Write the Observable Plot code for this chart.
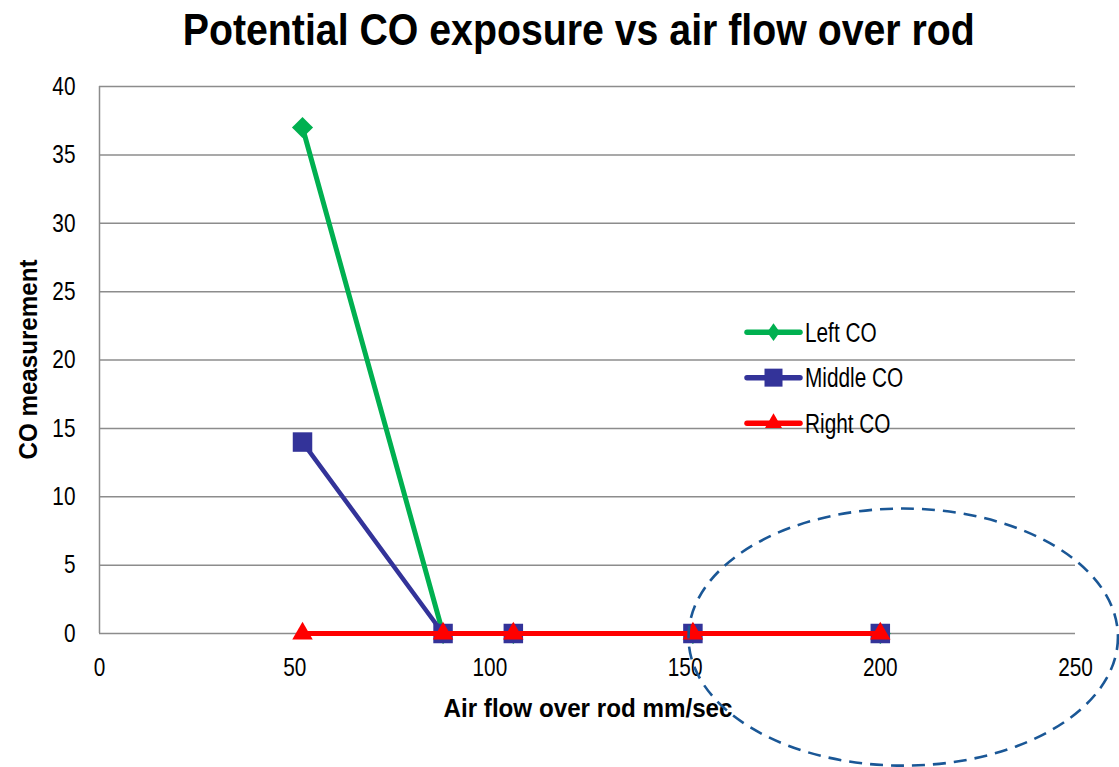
<!DOCTYPE html>
<html>
<head>
<meta charset="utf-8">
<script src="https://cdn.jsdelivr.net/npm/d3@7"></script>
<script src="https://cdn.jsdelivr.net/npm/@observablehq/plot@0.6"></script>
<style>
  body { margin: 0; background: #fff; }
  #wrap { position: relative; width: 1119px; height: 767px; font-family: "Liberation Sans", Arial, sans-serif; }
  #title { position: absolute; left: 0; top: 0; width: 1158px; height: 70px; text-align: center; }
  #title span { display: inline-block; font-weight: bold; font-size: 44px; line-height: 60px; color: #000; white-space: nowrap; transform-origin: 50% 50%; }
  #chart { position: absolute; left: 0; top: 70px; }
  svg { overflow: visible; }
</style>
</head>
<body>
<div id="wrap">
  <div id="title"><span>Potential CO exposure vs air flow over rod</span></div>
  <div id="chart"></div>
</div>
<script>
// ---- data ----
const airFlow = [52, 88, 106, 152, 200];
const leftCO = [37, 0, 0, 0, 0];
const middleCO = [14, 0, 0, 0, 0];
const rightCO = [0, 0, 0, 0, 0];
const seriesNames = ["Left CO", "Middle CO", "Right CO"];
const seriesColors = ["#00b050", "#333399", "#ff0000"];
const yTicks = [0, 5, 10, 15, 20, 25, 30, 35, 40];
const xTicks = [0, 50, 100, 150, 200, 250];
const xLabel = "Air flow over rod mm/sec";
const yLabel = "CO measurement";
const highlight = { cx: 206, cy: -0.3, rx: 55, ry: 9.4 }; // dashed ellipse annotation (data units)

const fontFam = '"Liberation Sans", Arial, sans-serif';
const rows = (ys, name) => airFlow.map((x, i) => ({ x, y: ys[i], series: name }));
const left = rows(leftCO, seriesNames[0]);
const middle = rows(middleCO, seriesNames[1]);
const right = rows(rightCO, seriesNames[2]);

const W = 1119, H = 697;
const chart = Plot.plot({
  width: W,
  height: H,
  marginLeft: 99,
  marginRight: 44,
  marginTop: 16,
  marginBottom: 134,
  style: { fontFamily: fontFam, background: "transparent", overflow: "visible" },
  x: { domain: [0, 250] },
  y: { domain: [0, 40] },
  marks: [
    Plot.ruleY(yTicks, { stroke: "#8c8c8c", strokeWidth: 1.5 }),
    Plot.ruleX([0], { stroke: "#8c8c8c", strokeWidth: 1.5 }),
    Plot.axisY({ ticks: yTicks, tickSize: 0, tickPadding: 24, fontSize: 26, fill: "#000", tickFormat: d => d, label: null }),
    Plot.axisX({ ticks: xTicks, tickSize: 0, tickPadding: 24, fontSize: 26, fill: "#000", tickFormat: d => d, label: null }),
    Plot.line(left, { x: "x", y: "y", stroke: seriesColors[0], strokeWidth: 5 }),
    Plot.dot(left, { x: "x", y: "y", symbol: "diamond2", r: 9.5, fill: seriesColors[0], stroke: "none" }),
    Plot.line(middle, { x: "x", y: "y", stroke: seriesColors[1], strokeWidth: 4.5 }),
    Plot.dot(middle, { x: "x", y: "y", symbol: "square", r: 11, fill: seriesColors[1], stroke: "none" }),
    Plot.line(right, { x: "x", y: "y", stroke: seriesColors[2], strokeWidth: 5 }),
    Plot.dot(right, { x: "x", y: "y", symbol: "triangle", r: 7.6, fill: seriesColors[2], stroke: "none" })
  ]
});
document.getElementById("chart").appendChild(chart);

// narrow-face emulation: compress glyphs horizontally
function squeeze(el, factor) {
  const len = el.getComputedTextLength();
  el.setAttribute("textLength", len * factor);
  el.setAttribute("lengthAdjust", "spacingAndGlyphs");
}
chart.querySelectorAll('g[aria-label="y-axis tick label"] text, g[aria-label="x-axis tick label"] text')
  .forEach(t => squeeze(t, 0.8));

// title width
const titleSpan = document.querySelector("#title span");
titleSpan.style.transform = `scaleX(${792 / titleSpan.getBoundingClientRect().width})`;

const sx = chart.scale("x"), sy = chart.scale("y");
const svg = d3.select(chart);
const x0 = sx.apply(0), x1 = sx.apply(250), y0 = sy.apply(0), y1 = sy.apply(40);

// axis titles
const xl = svg.append("text")
  .attr("x", (x0 + x1) / 2 + 1).attr("y", y0 + 84)
  .attr("text-anchor", "middle").attr("font-size", 26.5).attr("font-weight", "bold")
  .attr("font-family", fontFam).attr("fill", "#000").text(xLabel);
xl.node().setAttribute("textLength", 289); xl.node().setAttribute("lengthAdjust", "spacingAndGlyphs");
const yl = svg.append("text")
  .attr("transform", `translate(27,${(y0 + y1) / 2}) rotate(-90)`)
  .attr("dy", "0.36em")
  .attr("text-anchor", "middle").attr("font-size", 26.5).attr("font-weight", "bold")
  .attr("font-family", fontFam).attr("fill", "#000").text(yLabel);
yl.node().setAttribute("textLength", 200); yl.node().setAttribute("lengthAdjust", "spacingAndGlyphs");

// dashed ellipse annotation, positioned with the chart's scales
const cxp = sx.apply(highlight.cx), cyp = sy.apply(highlight.cy);
const rxp = sx.apply(highlight.cx + highlight.rx) - cxp;
const ryp = sy.apply(highlight.cy) - sy.apply(highlight.cy + highlight.ry);
svg.append("ellipse")
  .attr("cx", cxp).attr("cy", cyp).attr("rx", rxp).attr("ry", ryp)
  .attr("fill", "none").attr("stroke", "#1a5796").attr("stroke-width", 2.6)
  .attr("stroke-dasharray", "13 8");

// legend inside plot area
const lg = svg.append("g").attr("transform", `translate(${x0 + 646},${sy.apply(22)})`);
const symbols = [
  { t: d3.symbolDiamond2, size: 200, tr: "scale(0.72,1)" },
  { t: d3.symbolSquare, size: 18 * 18, tr: "" },
  { t: d3.symbolTriangle, size: 17 * 17 * Math.sqrt(3) / 4, tr: "" }
];
seriesNames.forEach((name, i) => {
  const g = lg.append("g").attr("transform", `translate(0,${i * 45.5})`);
  g.append("line").attr("x1", 2).attr("x2", 55).attr("y1", 0).attr("y2", 0)
    .attr("stroke", seriesColors[i]).attr("stroke-width", 5.5).attr("stroke-linecap", "round");
  g.append("path").attr("d", d3.symbol(symbols[i].t, symbols[i].size)())
    .attr("transform", `translate(28.5,0) ${symbols[i].tr}`)
    .attr("fill", seriesColors[i]);
  const t = g.append("text").attr("x", 60).attr("y", 0).attr("dy", "0.36em").attr("font-size", 27)
    .attr("text-anchor", "start")
    .attr("font-family", fontFam).attr("fill", "#000").text(name);
  squeeze(t.node(), 0.77);
});
</script>
</body>
</html>
